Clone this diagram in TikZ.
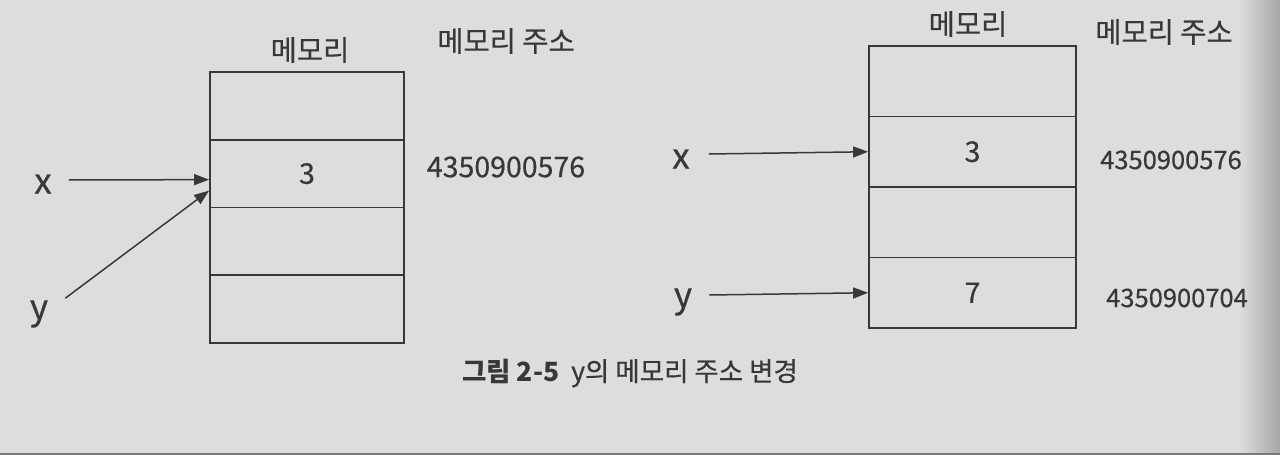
\documentclass[tikz,border=0pt]{standalone}
\usepackage{fontspec}
\setmainfont{Noto Sans CJK KR}[UprightFeatures={FakeBold=0.5}]
\usetikzlibrary{arrows.meta,positioning}
\definecolor{paper}{HTML}{DDDDDD}
\definecolor{ink}{HTML}{383838}
\tikzset{
    cell/.style={draw=ink, line width=1.8pt, minimum width=#1, inner sep=0pt},
    ptr/.style={draw=ink, line width=1.5pt, -{Triangle[length=15pt, width=11pt]}},
    lbl/.style={text=ink, font=\fontsize{28.5}{32}\selectfont, inner sep=0pt},
    addr/.style={text=ink, font=\fontsize{25.5}{30}\selectfont, inner sep=0pt},
    var/.style={text=ink, font=\fontsize{35}{40}\selectfont, inner sep=0pt}
}
\begin{document}
\begin{tikzpicture}[x=1pt, y=-1pt]
    \fill[paper] (0, 0) rectangle (1280, 455);
    \shade[left color=paper, right color=paper!75!black] (1240, 0) rectangle (1280, 455);
    \fill[paper!55!black] (0, 453) rectangle (1280, 455);
    \useasboundingbox (0, 0) rectangle (1280, 455);
    % left memory
    \foreach \i in {1, ..., 4}
        \node[cell=194pt, minimum height=67.75pt] (L\i) at (307, 72 + 67.75 * \i - 33.875) {};
    \node[lbl] at (310, 50) {메모리};
    \node[lbl] at (506, 41) {메모리 주소};
    \node[lbl] at (L2) {3};
    \node[lbl] at (506, 167) {4350900576};
    \node[var] (lx) at (43, 184) {x};
    \node[var] (ly) at (39, 314) {y};
    \coordinate (lxe) at ([yshift=-6pt]L2.west);
    \coordinate (lye) at ([yshift=-17pt]L2.west);
    \draw[ptr] (lx.east) ++(17, -4) -- (lxe);
    \draw[ptr] (ly.north east) ++(17, -2) -- (lye);
    % right memory
    \foreach \i in {1, ..., 4}
        \node[cell=207pt, minimum height=70.5pt] (R\i) at (972.5, 46 + 70.5 * \i - 35.25) {};
    \node[lbl] at (968, 24) {메모리};
    \node[lbl] at (1164, 32) {메모리 주소};
    \node[lbl] at (R2) {3};
    \node[lbl] at (R4) {7};
    \node[addr] at (1171, 160) {4350900576};
    \node[addr] at (1177, 298) {4350900704};
    \node[var] (rx) at (681, 159) {x};
    \node[var] (ry) at (683, 302) {y};
    \draw[ptr] (rx.east) ++(19, -5) -- (R2.west);
    \draw[ptr] (ry.east) ++(17, -7) -- (R4.west);
    % caption
    \node[text=ink, font=\fontsize{26.5}{30}\selectfont] (cap) at (630, 373)
        {\textbf{그림 2-5}\ \ y의 메모리 주소 변경};
\end{tikzpicture}
\end{document}
